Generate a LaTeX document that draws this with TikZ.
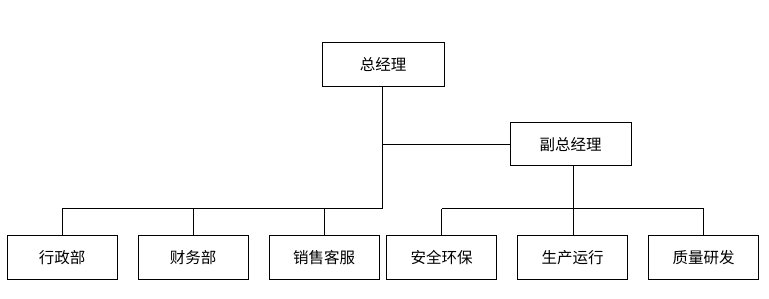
\documentclass[tikz,border=0pt]{standalone}
\usepackage{fontspec}
\newfontfamily\cjk{Noto Sans CJK SC}
\begin{document}
\begin{tikzpicture}[x=1pt,y=-1pt,
  box/.style={draw,line width=1pt,minimum width=110pt,minimum height=44pt,inner sep=0pt,font=\cjk\fontsize{15.5}{17}\selectfont},
  conn/.style={line width=1pt}]
\useasboundingbox (0,0) rectangle (769,299);
\node[box,minimum width=122pt] (gm) at (383,65) {总经理};
\node[box,minimum width=121pt,minimum height=43pt] (vgm) at (570.5,144.5) {副总经理};
\node[box] (a) at (62,258) {行政部};
\node[box] (b) at (193,258) {财务部};
\node[box] (c) at (324,258) {销售客服};
\node[box] (d) at (441.5,258) {安全环保};
\node[box] (e) at (572.5,258) {生产运行};
\node[box] (f) at (703.5,258) {质量研发};
\coordinate (lb) at (382,209);
\coordinate (rb) at (573,209);
\coordinate (j) at (382,145);
\draw[conn] (gm.south -| j) -- (lb);
\draw[conn] (j) -- (vgm.west |- j);
\draw[conn] (vgm.south -| rb) -- (rb);
\draw[conn] (lb) -- (lb -| a.north) -- (a.north);
\draw[conn] (lb -| b.north) -- (b.north);
\draw[conn] (lb -| c.north) -- (c.north);
\draw[conn] (rb -| d.north) -- (d.north);
\draw[conn] (rb -| d.north) -- (rb -| f.north) -- (f.north);
\draw[conn] (rb) -- (e.north -| rb);
\end{tikzpicture}
\end{document}
